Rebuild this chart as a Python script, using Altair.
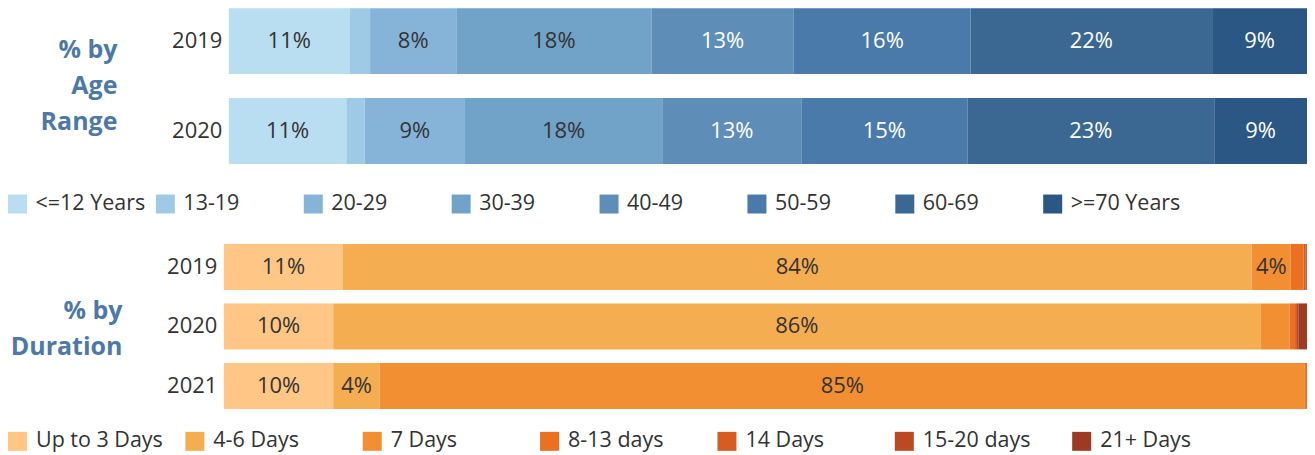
import altair as alt
import pandas as pd

# ---------------- data ----------------
age_cats = ["<=12 Years", "13-19", "20-29", "30-39", "40-49", "50-59", "60-69", ">=70 Years"]
age_years = ["2019", "2020"]
age_2019 = [11.2, 1.9, 8.0, 18.1, 13.2, 16.4, 22.4, 8.8]
age_2020 = [10.9, 1.7, 9.3, 18.3, 12.9, 15.4, 22.9, 8.6]
age_colors = ["#b9ddf1", "#9fcae6", "#86b4d9", "#71a2c7", "#5e8db8", "#4a7aa9", "#3a6893", "#2a5783"]

dur_cats = ["Up to 3 Days", "4-6 Days", "7 Days", "8-13 days", "14 Days", "15-20 days", "21+ Days"]
dur_years = ["2019", "2020", "2021"]
dur_2019 = [11.0, 83.9, 3.6, 1.2, 0.15, 0.1, 0.05]
dur_2020 = [10.1, 85.6, 2.7, 0.5, 0.1, 0.2, 0.8]
dur_2021 = [10.1, 4.3, 85.4, 0.2, 0.0, 0.0, 0.0]
dur_colors = ["#ffc685", "#f5ad52", "#f38f33", "#ec7022", "#d65c21", "#b94a23", "#9c3a23"]

FONT = "Open Sans"
TEXT = "#333333"
TITLE_COLOR = "#4e79a7"
W = 1299


def long_table(years, series, cats):
    rows = []
    for y, vals in zip(years, series):
        for i, (c, v) in enumerate(zip(cats, vals)):
            rows.append({"year": y, "cat": c, "order": i, "value": v})
    return pd.DataFrame(rows)


def bar_panel(df, years, cats, colors, height, pin, pout, xrange, off,
              title, title_x, title_y, dark_n):
    base = alt.Chart(df).transform_stack(
        stack="value", groupby=["year"],
        sort=[alt.SortField("order", order="ascending")],
        offset="normalize", as_=["x0", "x1"],
    ).transform_calculate(
        mid="(datum.x0 + datum.x1) / 2", frac="datum.x1 - datum.x0"
    )
    xs = alt.Scale(domain=[0, 1], range=xrange, nice=False, zero=False)
    ys = alt.Scale(domain=years, paddingInner=pin, paddingOuter=pout)
    yaxis = alt.Axis(
        title=title, titleAngle=0, titleAlign="right", titleBaseline="middle",
        titleX=title_x, titleY=title_y, titleFont=FONT, titleFontSize=25,
        titleFontWeight="bold", titleColor=TITLE_COLOR, titleLineHeight=36,
        labelFont=FONT, labelFontSize=22, labelColor=TEXT, labelPadding=7,
        offset=-off, domain=False, ticks=False, tickSize=0, grid=False,
    )
    bars = base.mark_bar().encode(
        x=alt.X("x0:Q", scale=xs, axis=None),
        x2="x1:Q",
        y=alt.Y("year:N", scale=ys, axis=yaxis),
        color=alt.Color("cat:N", scale=alt.Scale(domain=cats, range=colors), legend=None),
    )
    labels = base.transform_filter("datum.frac >= 0.035").mark_text(
        font=FONT, fontSize=22, baseline="middle", align="center"
    ).encode(
        x=alt.X("mid:Q", scale=xs, axis=None),
        y=alt.Y("year:N", scale=ys, axis=yaxis),
        text=alt.Text("frac:Q", format=".0%"),
        color=alt.condition(f"datum.order < {dark_n}", alt.value(TEXT), alt.value("#ffffff")),
    )
    return alt.layer(bars, labels).properties(width=W, height=height)


def legend_panel(cats, colors, spacing, height, yc, dx):
    ldf = pd.DataFrame({"cat": cats, "idx": list(range(len(cats)))})
    n = len(cats) - 1
    xs = alt.Scale(domain=[0, n], range=[8.5, 8.5 + spacing * n], nice=False, zero=False)
    sq = alt.Chart(ldf).mark_square(size=361, opacity=1).encode(
        x=alt.X("idx:Q", scale=xs, axis=None),
        y=alt.value(yc),
        color=alt.Color("cat:N", scale=alt.Scale(domain=cats, range=colors), legend=None),
    )
    tx = alt.Chart(ldf).mark_text(
        align="left", baseline="middle", dx=dx, font=FONT, fontSize=21.5, color=TEXT
    ).encode(
        x=alt.X("idx:Q", scale=xs, axis=None),
        y=alt.value(yc),
        text="cat:N",
    )
    return alt.layer(sq, tx).properties(width=W, height=height)


age_df = long_table(age_years, [age_2019, age_2020], age_cats)
dur_df = long_table(dur_years, [dur_2019, dur_2020, dur_2021], dur_cats)

p1 = bar_panel(age_df, age_years, age_cats, age_colors, 156, 0.2667, 0.0,
               [220, W], 220, ["% by", "Age", "Range"], -112, 41, 4)
l1 = legend_panel(age_cats, age_colors, 148, 77, 40, 18)
p3 = bar_panel(dur_df, dur_years, dur_cats, dur_colors, 171, 0.227, 0.05,
               [215, W], 215, ["% by", "Duration"], -102, 70, 99)
l2 = legend_panel(dur_cats, dur_colors, 177.5, 43, 29.5, 18.5)

chart = alt.vconcat(p1, l1, p3, l2, spacing=0, bounds="flush").resolve_scale(
    color="independent", x="independent", y="independent"
).properties(padding=0).configure_view(stroke=None)

chart.save("out.html", embed_options={"renderer": "svg", "actions": False})
